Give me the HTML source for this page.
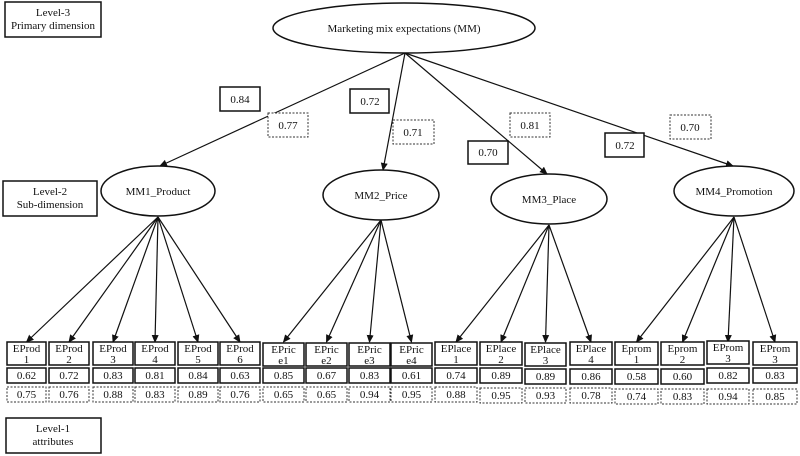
<!DOCTYPE html>
<html><head><meta charset="utf-8"><style>
html,body{margin:0;padding:0;background:#fff;}
svg{display:block;}
text{font-family:"Liberation Serif",serif;font-size:11px;fill:#111;text-anchor:middle;}
.s{fill:#fff;stroke:#111;stroke-width:1.5;}
.d{fill:#fff;stroke:#333;stroke-width:1;stroke-dasharray:2,1.5;}
.l{stroke:#111;stroke-width:1.2;fill:none;marker-end:url(#a);}
</style></head><body>
<svg width="800" height="456" viewBox="0 0 800 456" xmlns="http://www.w3.org/2000/svg">
<defs><marker id="a" markerWidth="8" markerHeight="8" refX="7" refY="4" orient="auto" markerUnits="userSpaceOnUse"><path d="M0,0.5 L8,4 L0,7.5 z" fill="#111"/></marker></defs>

<!-- level boxes -->
<rect class="s" x="5" y="2" width="96" height="35"/>
<text x="53" y="16">Level-3</text><text x="53" y="29">Primary dimension</text>
<rect class="s" x="3" y="181" width="94" height="35"/>
<text x="50" y="195">Level-2</text><text x="50" y="208">Sub-dimension</text>
<rect class="s" x="6" y="418" width="95" height="35"/>
<text x="53" y="432">Level-1</text><text x="53" y="445">attributes</text>

<!-- top level -->
<line class="l" x1="405" y1="53" x2="160" y2="166"/>
<line class="l" x1="405" y1="53" x2="383" y2="170"/>
<line class="l" x1="405" y1="53" x2="547" y2="174"/>
<line class="l" x1="405" y1="53" x2="733" y2="166"/>
<ellipse class="s" cx="404" cy="28" rx="131" ry="25"/>
<text x="404" y="32">Marketing mix expectations (MM)</text>

<rect class="s" x="220" y="87" width="40" height="24"/><text x="240" y="103">0.84</text>
<rect class="d" x="268" y="113" width="40" height="24"/><text x="288" y="129">0.77</text>
<rect class="s" x="350" y="89" width="39" height="24"/><text x="370" y="105">0.72</text>
<rect class="d" x="393" y="120" width="41" height="24"/><text x="413" y="136">0.71</text>
<rect class="s" x="468" y="141" width="40" height="23"/><text x="488" y="156">0.70</text>
<rect class="d" x="510" y="113" width="40" height="24"/><text x="530" y="129">0.81</text>
<rect class="s" x="605" y="133" width="39" height="24"/><text x="625" y="149">0.72</text>
<rect class="d" x="670" y="115" width="41" height="24"/><text x="690" y="131">0.70</text>

<!-- item arrows -->
<g>
<line class="l" x1="158" y1="217" x2="26.5" y2="342"/>
<line class="l" x1="158" y1="217" x2="69" y2="342"/>
<line class="l" x1="158" y1="217" x2="113" y2="342"/>
<line class="l" x1="158" y1="217" x2="155" y2="342"/>
<line class="l" x1="158" y1="217" x2="198" y2="342"/>
<line class="l" x1="158" y1="217" x2="240" y2="342"/>
<line class="l" x1="381" y1="220" x2="283.5" y2="342"/>
<line class="l" x1="381" y1="220" x2="326.5" y2="342"/>
<line class="l" x1="381" y1="220" x2="369.5" y2="342"/>
<line class="l" x1="381" y1="220" x2="411.5" y2="342"/>
<line class="l" x1="549" y1="225" x2="456" y2="342"/>
<line class="l" x1="549" y1="225" x2="501" y2="342"/>
<line class="l" x1="549" y1="225" x2="545.5" y2="342"/>
<line class="l" x1="549" y1="225" x2="591" y2="342"/>
<line class="l" x1="734" y1="217" x2="636.5" y2="342"/>
<line class="l" x1="734" y1="217" x2="682.5" y2="342"/>
<line class="l" x1="734" y1="217" x2="728" y2="342"/>
<line class="l" x1="734" y1="217" x2="775" y2="342"/>
</g>

<ellipse class="s" cx="158" cy="191" rx="57" ry="25"/><text x="158" y="195">MM1_Product</text>
<ellipse class="s" cx="381" cy="195" rx="58" ry="25"/><text x="381" y="199">MM2_Price</text>
<ellipse class="s" cx="549" cy="199" rx="58" ry="25"/><text x="549" y="203">MM3_Place</text>
<ellipse class="s" cx="734" cy="191" rx="60" ry="25"/><text x="734" y="195">MM4_Promotion</text>

<!-- items -->
<g>
<rect class="s" x="7" y="342" width="39" height="23"/><text x="26.5" y="352">EProd</text><text x="26.5" y="363">1</text>
<rect class="s" x="7" y="368" width="39" height="15"/><text x="26.5" y="379">0.62</text>
<rect class="d" x="7" y="387" width="39" height="15"/><text x="26.5" y="398">0.75</text>

<rect class="s" x="49" y="342" width="40" height="23"/><text x="69" y="352">EProd</text><text x="69" y="363">2</text>
<rect class="s" x="49" y="368" width="40" height="15"/><text x="69" y="379">0.72</text>
<rect class="d" x="49" y="387" width="40" height="15"/><text x="69" y="398">0.76</text>

<rect class="s" x="93" y="342" width="40" height="23"/><text x="113" y="352">EProd</text><text x="113" y="363">3</text>
<rect class="s" x="93" y="368" width="40" height="15"/><text x="113" y="379">0.83</text>
<rect class="d" x="93" y="387" width="40" height="15"/><text x="113" y="398">0.88</text>

<rect class="s" x="135" y="342" width="40" height="23"/><text x="155" y="352">EProd</text><text x="155" y="363">4</text>
<rect class="s" x="135" y="368" width="40" height="15"/><text x="155" y="379">0.81</text>
<rect class="d" x="135" y="387" width="40" height="15"/><text x="155" y="398">0.83</text>

<rect class="s" x="178" y="342" width="40" height="23"/><text x="198" y="352">EProd</text><text x="198" y="363">5</text>
<rect class="s" x="178" y="368" width="40" height="15"/><text x="198" y="379">0.84</text>
<rect class="d" x="178" y="387" width="40" height="15"/><text x="198" y="398">0.89</text>

<rect class="s" x="220" y="342" width="40" height="23"/><text x="240" y="352">EProd</text><text x="240" y="363">6</text>
<rect class="s" x="220" y="368" width="40" height="15"/><text x="240" y="379">0.63</text>
<rect class="d" x="220" y="387" width="40" height="15"/><text x="240" y="398">0.76</text>

<rect class="s" x="263" y="343" width="41" height="23"/><text x="283.5" y="353">EPric</text><text x="283.5" y="364">e1</text>
<rect class="s" x="263" y="368" width="41" height="15"/><text x="283.5" y="379">0.85</text>
<rect class="d" x="263" y="387" width="41" height="15"/><text x="283.5" y="398">0.65</text>

<rect class="s" x="306" y="343" width="41" height="23"/><text x="326.5" y="353">EPric</text><text x="326.5" y="364">e2</text>
<rect class="s" x="306" y="368" width="41" height="15"/><text x="326.5" y="379">0.67</text>
<rect class="d" x="306" y="387" width="41" height="15"/><text x="326.5" y="398">0.65</text>

<rect class="s" x="349" y="343" width="41" height="23"/><text x="369.5" y="353">EPric</text><text x="369.5" y="364">e3</text>
<rect class="s" x="349" y="368" width="41" height="15"/><text x="369.5" y="379">0.83</text>
<rect class="d" x="349" y="387" width="41" height="15"/><text x="369.5" y="398">0.94</text>

<rect class="s" x="391" y="343" width="41" height="23"/><text x="411.5" y="353">EPric</text><text x="411.5" y="364">e4</text>
<rect class="s" x="391" y="368" width="41" height="15"/><text x="411.5" y="379">0.61</text>
<rect class="d" x="391" y="387" width="41" height="15"/><text x="411.5" y="398">0.95</text>

<rect class="s" x="435" y="342" width="42" height="23"/><text x="456" y="352">EPlace</text><text x="456" y="363">1</text>
<rect class="s" x="435" y="368" width="42" height="15"/><text x="456" y="379">0.74</text>
<rect class="d" x="435" y="387" width="42" height="15"/><text x="456" y="398">0.88</text>

<rect class="s" x="480" y="342" width="42" height="23"/><text x="501" y="352">EPlace</text><text x="501" y="363">2</text>
<rect class="s" x="480" y="368" width="42" height="15"/><text x="501" y="379">0.89</text>
<rect class="d" x="480" y="388" width="42" height="15"/><text x="501" y="399">0.95</text>

<rect class="s" x="525" y="343" width="41" height="23"/><text x="545.5" y="353">EPlace</text><text x="545.5" y="364">3</text>
<rect class="s" x="525" y="369" width="41" height="15"/><text x="545.5" y="380">0.89</text>
<rect class="d" x="525" y="388" width="41" height="15"/><text x="545.5" y="399">0.93</text>

<rect class="s" x="570" y="342" width="42" height="23"/><text x="591" y="352">EPlace</text><text x="591" y="363">4</text>
<rect class="s" x="570" y="369" width="42" height="15"/><text x="591" y="380">0.86</text>
<rect class="d" x="570" y="388" width="42" height="15"/><text x="591" y="399">0.78</text>

<rect class="s" x="615" y="342" width="43" height="23"/><text x="636.5" y="352">Eprom</text><text x="636.5" y="363">1</text>
<rect class="s" x="615" y="369" width="43" height="15"/><text x="636.5" y="380">0.58</text>
<rect class="d" x="615" y="389" width="43" height="15"/><text x="636.5" y="400">0.74</text>

<rect class="s" x="661" y="342" width="43" height="23"/><text x="682.5" y="352">Eprom</text><text x="682.5" y="363">2</text>
<rect class="s" x="661" y="369" width="43" height="15"/><text x="682.5" y="380">0.60</text>
<rect class="d" x="661" y="389" width="43" height="15"/><text x="682.5" y="400">0.83</text>

<rect class="s" x="707" y="341" width="42" height="23"/><text x="728" y="351">EProm</text><text x="728" y="362">3</text>
<rect class="s" x="707" y="368" width="42" height="15"/><text x="728" y="379">0.82</text>
<rect class="d" x="707" y="389" width="42" height="15"/><text x="728" y="400">0.94</text>

<rect class="s" x="753" y="342" width="44" height="23"/><text x="775" y="352">EProm</text><text x="775" y="363">3</text>
<rect class="s" x="753" y="368" width="44" height="15"/><text x="775" y="379">0.83</text>
<rect class="d" x="753" y="389" width="44" height="15"/><text x="775" y="400">0.85</text>
</g>
</svg>
</body></html>
